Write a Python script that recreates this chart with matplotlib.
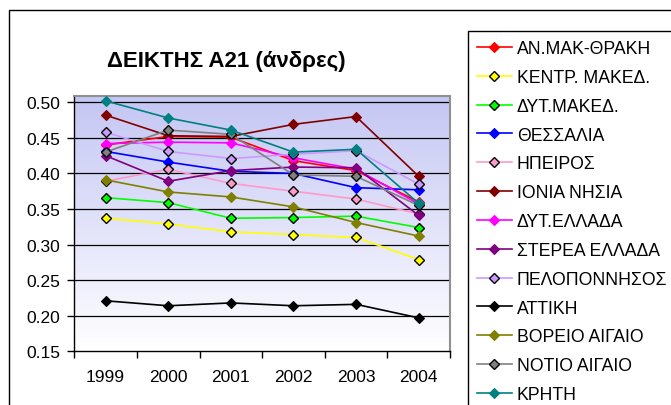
import numpy as np
import matplotlib
matplotlib.use("Agg")
import matplotlib.pyplot as plt
from matplotlib.patches import Rectangle
from matplotlib.colors import LinearSegmentedColormap

plt.rcParams['font.family'] = ['Liberation Sans', 'DejaVu Sans']

years = ['1999', '2000', '2001', '2002', '2003', '2004']

regions = ['ΑΝ.ΜΑΚ-ΘΡΑΚΗ', 'ΚΕΝΤΡ. ΜΑΚΕΔ.', 'ΔΥΤ.ΜΑΚΕΔ.', 'ΘΕΣΣΑΛΙΑ', 'ΗΠΕΙΡΟΣ',
           'ΙΟΝΙΑ ΝΗΣΙΑ', 'ΔΥΤ.ΕΛΛΑΔΑ', 'ΣΤΕΡΕΑ ΕΛΛΑΔΑ', 'ΠΕΛΟΠΟΝΝΗΣΟΣ', 'ΑΤΤΙΚΗ',
           'ΒΟΡΕΙΟ ΑΙΓΑΙΟ', 'ΝΟΤΙΟ ΑΙΓΑΙΟ', 'ΚΡΗΤΗ']

an_mak_thraki = [0.440, 0.452, 0.451, 0.418, 0.404, 0.360]
kentr_maked = [0.337, 0.329, 0.318, 0.314, 0.310, 0.279]
dyt_maked = [0.366, 0.359, 0.337, 0.338, 0.340, 0.324]
thessalia = [0.431, 0.416, 0.403, 0.400, 0.380, 0.377]
ipeiros = [0.389, 0.406, 0.386, 0.375, 0.364, 0.343]
ionia_nisia = [0.482, 0.453, 0.452, 0.469, 0.480, 0.396]
dyt_ellada = [0.442, 0.444, 0.443, 0.422, 0.406, 0.357]
sterea_ellada = [0.425, 0.389, 0.404, 0.409, 0.408, 0.341]
peloponnisos = [0.458, 0.431, 0.421, 0.427, 0.432, 0.385]
attiki = [0.221, 0.214, 0.218, 0.214, 0.216, 0.197]
voreio_aigaio = [0.391, 0.374, 0.367, 0.353, 0.331, 0.312]
notio_aigaio = [0.430, 0.461, 0.455, 0.398, 0.396, 0.355]
kriti = [0.502, 0.478, 0.461, 0.430, 0.434, 0.358]

series = [an_mak_thraki, kentr_maked, dyt_maked, thessalia, ipeiros, ionia_nisia,
          dyt_ellada, sterea_ellada, peloponnisos, attiki, voreio_aigaio,
          notio_aigaio, kriti]

colors = ['#FF0000', '#FFFF00', '#00FF00', '#0000FF', '#FF99CC', '#800000',
          '#FF00FF', '#800080', '#CC99FF', '#000000', '#808000', '#808080', '#008080']
# markers outlined in black for the light-coloured series
outlined = [False, True, True, False, True, False, False, False, True, False,
            False, True, False]

W, H = 671, 406
fig = plt.figure(figsize=(W / 100, H / 100), dpi=100)

# outer chart frame
fig.add_artist(Rectangle((9 / W, -0.1), 1.2, 1 - 11 / H + 0.1, transform=fig.transFigure,
                         fill=False, edgecolor='black', linewidth=1.0))

left, right = 74.3 / W, 450.0 / W
bottom, top = 1 - 352.3 / H, 1 - 96.7 / H
ax = fig.add_axes([left, bottom, right - left, top - bottom])

ymin, ymax = 0.15, 0.5093
ax.set_xlim(0, len(years))
ax.set_ylim(ymin, ymax)

# vertical gradient background
cmap = LinearSegmentedColormap.from_list('bg', ['#FFFFFF', '#C4C6F4'])
grad = np.linspace(0, 1, 256).reshape(-1, 1)
ax.imshow(grad, aspect='auto', cmap=cmap, origin='lower',
          extent=[0, len(years), ymin, ymax], zorder=0)

yticks = np.arange(0.15, 0.5001, 0.05)
for yv in yticks[1:]:
    ax.axhline(yv, color='black', linewidth=0.9, zorder=1)

x = np.arange(len(years)) + 0.5
for vals, col, ol, name in zip(series, colors, outlined, regions):
    ax.plot(x, vals, color=col, linewidth=1.2, marker='D', markersize=5.5,
            markerfacecolor=col, markeredgecolor='black' if ol else col,
            markeredgewidth=1.0 if ol else 0.8, label=name, zorder=3)

ax.set_yticks(yticks)
ax.set_yticklabels([f'{v:.2f}' for v in yticks], fontsize=12.5)
ax.tick_params(axis='y', direction='out', length=5, width=1, pad=5)

ax.set_xticks(np.arange(len(years) + 1))
ax.set_xticklabels([])
ax.set_xticks(x, minor=True)
ax.set_xticklabels(years, minor=True, fontsize=12.5)
ax.tick_params(axis='x', which='major', direction='out', length=5, width=1)
ax.tick_params(axis='x', which='minor', length=0, pad=13)

for s in ['left', 'bottom']:
    ax.spines[s].set_color('black')
    ax.spines[s].set_linewidth(1.0)
for s in ['top', 'right']:
    ax.spines[s].set_color('#909090')
    ax.spines[s].set_linewidth(1.5)

fig.text(226.5 / W, 1 - 61 / H, 'ΔΕΙΚΤΗΣ Α21 (άνδρες)', fontsize=16, fontweight='bold',
         ha='center', va='center')

leg = fig.legend(loc='upper left', bbox_to_anchor=(468 / W, 1 - 32 / H),
                 bbox_transform=fig.transFigure, fontsize=12.7, frameon=True,
                 fancybox=False, edgecolor='black', framealpha=1,
                 handlelength=1.95, handletextpad=0.3, labelspacing=0.67,
                 borderpad=0.52, borderaxespad=0)
leg.get_frame().set_linewidth(1.0)

fig.savefig('out.png', dpi=100)
